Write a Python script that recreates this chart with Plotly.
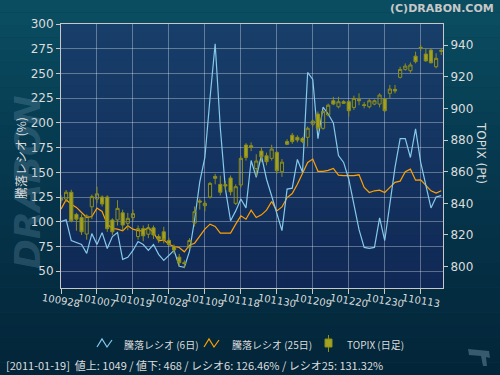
import plotly.graph_objects as go

# ---------------- data ----------------
tick_pos = [0, 7, 14, 21, 28, 35, 42, 49, 56, 63, 70]
tick_labels = ["100928", "101007", "101019", "101028", "101109", "101118",
               "101130", "101209", "101220", "101230", "110113"]

ratio6 = [100, 102, 81, 79, 77, 68, 88, 77, 89, 73,
          85, 89, 62, 64, 71, 80, 77, 71, 77, 67,
          61, 66, 71, 55, 54, 70, 102, 140, 165, 225,
          280, 195, 133, 101, 111, 123, 114, 162, 145, 167,
          143, 126, 108, 91, 133, 134, 163, 150, 251, 244,
          184, 216, 209, 200, 167, 160, 143, 118, 92, 74,
          73, 74, 104, 81, 118, 155, 184, 184, 165, 194,
          160, 136, 114, 125, 126.46]

ratio25 = [112.8, 122.2, 117.8, 114.5, 109.4, 104.3, 105.3, 113.8, 110.4, 97.6,
           93.2, 92.5, 90.8, 95.9, 92.5, 91, 90.8, 94.2, 89, 80.7,
           81.7, 77.3, 75, 74, 69.6, 76.3, 78.3, 85.7, 92.5, 97.6,
           95.2, 88.5, 88.5, 88.5, 97.6, 106, 102.6, 111.7, 104.3, 107,
           111.7, 120.5, 111, 115, 124.5, 128.5, 138, 149, 160, 163.4,
           151, 151, 152, 154, 147.2, 146.6, 146.6, 146.6, 147.5, 134.7,
           129.6, 131.3, 132, 129.6, 134.7, 139.8, 141.1, 150.5, 153.2, 142.1,
           142.4, 137, 131.3, 129, 131.32]

topix_open = [842, 842.7, 847, 833, 831, 820.6, 837.8, 842.7, 844, 844,
              829.5, 829.5, 834, 827.4, 831, 819, 824, 820.5, 824.5, 819,
              822, 816.5, 812.6, 806, 802.5, 812, 827.5, 841.5, 838.5, 844,
              857, 852, 851.8, 856, 840, 851.6, 876.8, 876.4, 862, 873,
              870, 868.4, 872.2, 860, 879, 883, 881.7, 881, 881.7, 890,
              896.4, 887.4, 895.8, 904.8, 901, 904.2, 904.2, 900.6, 905.7, 902.3,
              901, 902.7, 902.7, 906, 909.5, 912, 919.6, 924.6, 923.8, 933,
              938, 934.3, 936.8, 926.3, 936]
topix_high = [845, 848.4, 848.6, 834, 833, 833, 845.5, 850.5, 845, 845,
              830.5, 842, 836, 834, 836, 826, 826, 827, 826, 820.5,
              825.2, 818, 814, 808, 804, 818, 838, 843, 841.7, 853.5,
              858.6, 857.5, 854, 857.6, 852, 870, 878, 878.5, 871, 875.5,
              872, 877, 873, 868, 880.5, 884.5, 883, 882, 888.5, 893,
              898, 899, 903, 907.3, 907.3, 905.2, 905.2, 908, 909.5, 904,
              906, 905.6, 909.5, 906.5, 914.8, 914.8, 926.3, 928.4, 929, 935.8,
              940, 937.9, 937.9, 934.8, 938]
topix_low = [840, 840.8, 828, 822.7, 820, 817, 830, 840, 838, 822,
             820, 826, 823, 823, 829, 817, 816, 818, 817.5, 815,
             814.7, 813, 808, 800, 799, 811, 825.4, 836, 835, 843,
             852, 845, 848, 845, 839, 850, 867, 873, 857, 866,
             864, 867, 858.6, 856.7, 876.8, 877.6, 878.5, 878, 875.8, 888.5,
             886, 886.5, 895, 902, 900, 902.8, 894.7, 899, 902, 900,
             900, 902, 900.6, 897.8, 906.3, 909.5, 918.9, 923.8, 922.5, 928.4,
             936.3, 929.5, 928.4, 925.3, 933.7]
topix_close = [843, 847, 829, 830, 822, 832, 844.2, 846, 839.6, 824,
               822, 836.8, 826.3, 830.5, 833.5, 824, 819.5, 824.5, 820, 817.3,
               817, 814, 810.5, 802.5, 802, 816.5, 834.7, 840.8, 840, 852.6,
               855.8, 847, 851, 847.3, 850.5, 868.4, 869, 875.4, 866.7, 869.4,
               866.3, 874.3, 860.6, 866, 877.3, 879, 880, 879, 887.4, 892,
               887.4, 898, 902, 902.7, 904.2, 903.2, 898.5, 906.3, 904.8, 901.8,
               904.8, 904.8, 908.4, 898.5, 912.2, 911, 924.6, 926.7, 927.4, 929.5,
               938.5, 930, 928.8, 931.6, 936.6]

legend_names = ["騰落レシオ (6日)", "騰落レシオ (25日)", "TOPIX (日足)"]
status_text = "[2011-01-19]  値上: 1049 / 値下: 468 / レシオ6: 126.46% / レシオ25: 131.32%"

x_idx = list(range(len(ratio6)))

# ---------------- geometry helpers (styling only) ----------------
W, H = 500, 375
L, R, T, B = 61, 443, 24, 288


def px(X):
    return (X - L) / (R - L)


def py(Y):
    return (B - Y) / (B - T)


def lerp(c1, c2, t):
    return "rgb(%d,%d,%d)" % tuple(round(a + (b - a) * t) for a, b in zip(c1, c2))


C6 = "#86c9ea"
C25 = "#ffa000"
CANDLE_LINE = "#8e8e1a"
CANDLE_FILL = "#a3a321"
TXT = "#dcdcdc"
FONT = "DejaVu Sans"
JFONT = "Noto Sans CJK JP, " + FONT

fig = go.Figure()

fig.add_trace(go.Candlestick(
    x=x_idx, open=topix_open, high=topix_high, low=topix_low, close=topix_close,
    yaxis="y2", name=legend_names[2], showlegend=False,
    increasing=dict(line=dict(color=CANDLE_LINE, width=1), fillcolor="rgba(0,0,0,0)"),
    decreasing=dict(line=dict(color=CANDLE_LINE, width=1), fillcolor=CANDLE_FILL),
    whiskerwidth=0,
))
fig.add_trace(go.Scatter(x=x_idx, y=ratio25, mode="lines", name=legend_names[1],
                         line=dict(color=C25, width=1.2), showlegend=False))
fig.add_trace(go.Scatter(x=x_idx, y=ratio6, mode="lines", name=legend_names[0],
                         line=dict(color=C6, width=1.2), showlegend=False))

shapes = []
# paper gradient
N = 30
top_c, mid_c, bot_c = (10, 78, 98), (6, 58, 80), (3, 36, 56)
for k in range(N):
    y0 = k * H / N
    y1 = (k + 1) * H / N
    t = (k + 0.5) / N
    col = lerp(top_c, mid_c, t / 0.4) if t < 0.4 else lerp(mid_c, bot_c, (t - 0.4) / 0.6)
    shapes.append(dict(type="rect", xref="paper", yref="paper", layer="below",
                       x0=px(0), x1=px(W), y0=py(y1), y1=py(y0),
                       fillcolor=col, line=dict(width=0)))
# plot-area gradient
for k in range(N):
    y0 = T + k * (B - T) / N
    y1 = T + (k + 1) * (B - T) / N
    col = lerp((24, 62, 106), (16, 40, 86), (k + 0.5) / N)
    shapes.append(dict(type="rect", xref="paper", yref="paper", layer="below",
                       x0=0, x1=1, y0=py(y1), y1=py(y0),
                       fillcolor=col, line=dict(width=0)))


def zig(x0, col):
    pts = [(x0, 347), (x0 + 5, 339), (x0 + 10, 347), (x0 + 15, 340)]
    path = "M " + " L ".join("%f,%f" % (px(a), py(b)) for a, b in pts)
    return dict(type="path", xref="paper", yref="paper", path=path,
                line=dict(color=col, width=1.2))


shapes.append(zig(97, C6))
shapes.append(zig(204, C25))
shapes.append(dict(type="line", xref="paper", yref="paper", x0=px(328.5), x1=px(328.5),
                   y0=py(352), y1=py(335), line=dict(color=CANDLE_LINE, width=1)))
shapes.append(dict(type="rect", xref="paper", yref="paper", x0=px(325), x1=px(332),
                   y0=py(347), y1=py(339), fillcolor=CANDLE_FILL,
                   line=dict(color=CANDLE_LINE, width=1)))
logo = [(468, 349), (489, 351), (490, 358), (486, 357), (487, 366), (483, 366), (481, 356), (469, 355)]
shapes.append(dict(type="path", xref="paper", yref="paper",
                   path="M " + " L ".join("%f,%f" % (px(a), py(b)) for a, b in logo) + " Z",
                   fillcolor="rgba(90,125,145,0.6)", line=dict(width=0)))

annotations = []
for p, lab in zip(tick_pos, tick_labels):
    annotations.append(dict(x=p, xref="x", y=py(300), yref="paper", text=lab,
                            showarrow=False, textangle=10, xanchor="center", yanchor="middle",
                            font=dict(family=FONT, size=10, color=TXT)))
annotations += [
    dict(x=px(496), y=py(8), xref="paper", yref="paper", text="(C)DRABON.COM",
         showarrow=False, xanchor="right", yanchor="middle",
         font=dict(family=FONT, size=11, color="#c8c8c8", weight="bold")),
    dict(x=px(27), y=py(182), xref="paper", yref="paper", text="DRABON",
         showarrow=False, textangle=-90, xanchor="center", yanchor="middle",
         font=dict(family=FONT, size=36, color="rgba(110,150,175,0.30)",
                   weight="bold", style="italic")),
    dict(x=px(20), y=py(158), xref="paper", yref="paper", text="騰落レシオ (%)",
         showarrow=False, textangle=-90, xanchor="center", yanchor="middle",
         font=dict(family=JFONT, size=12, color=TXT)),
    dict(x=px(481), y=py(153), xref="paper", yref="paper", text="TOPIX (Pt)",
         showarrow=False, textangle=90, xanchor="center", yanchor="middle",
         font=dict(family=FONT, size=12, color=TXT)),
    dict(x=px(122), y=py(344), xref="paper", yref="paper", text=legend_names[0],
         showarrow=False, xanchor="left", yanchor="middle",
         font=dict(family=JFONT, size=10, color=TXT)),
    dict(x=px(230), y=py(344), xref="paper", yref="paper", text=legend_names[1],
         showarrow=False, xanchor="left", yanchor="middle",
         font=dict(family=JFONT, size=10, color=TXT)),
    dict(x=px(345), y=py(344), xref="paper", yref="paper", text=legend_names[2],
         showarrow=False, xanchor="left", yanchor="middle",
         font=dict(family=JFONT, size=10, color=TXT)),
    dict(x=px(4), y=py(365), xref="paper", yref="paper", text=status_text,
         showarrow=False, xanchor="left", yanchor="middle",
         font=dict(family=JFONT, size=11, color=TXT)),
]

grid_c = "rgba(255,255,255,0.32)"
axis_c = "#c8c8c8"

fig.update_layout(
    width=W, height=H,
    margin=dict(l=L, r=W - R, t=T, b=H - B, pad=0),
    paper_bgcolor="#063a50",
    plot_bgcolor="rgba(0,0,0,0)",
    showlegend=False,
    boxgap=0.12,
    xaxis=dict(range=[0, 74.34], tickvals=tick_pos, ticktext=tick_labels,
               showticklabels=False, showgrid=True, gridcolor=grid_c, gridwidth=1,
               zeroline=False, showline=True, linecolor=axis_c, linewidth=1, mirror=True,
               ticks="outside", ticklen=5, tickcolor=axis_c,
               rangeslider=dict(visible=False)),
    yaxis=dict(range=[33, 300], dtick=25, tick0=0, side="left",
               showgrid=True, gridcolor=grid_c, gridwidth=1, zeroline=False,
               showline=True, linecolor=axis_c, linewidth=1,
               ticks="outside", ticklen=4, tickcolor=axis_c,
               tickfont=dict(family=FONT, size=12, color=TXT)),
    yaxis2=dict(range=[786.5, 953.3], dtick=20, tick0=0, side="right", overlaying="y",
                showgrid=False, zeroline=False,
                showline=True, linecolor=axis_c, linewidth=1,
                ticks="outside", ticklen=4, tickcolor=axis_c,
                tickfont=dict(family=FONT, size=12, color=TXT)),
    shapes=shapes,
    annotations=annotations,
)

fig.write_html("out.html",
               config={"displayModeBar": False, "staticPlot": True},
               post_script="document.body.style.margin='0';document.body.style.padding='0';")
